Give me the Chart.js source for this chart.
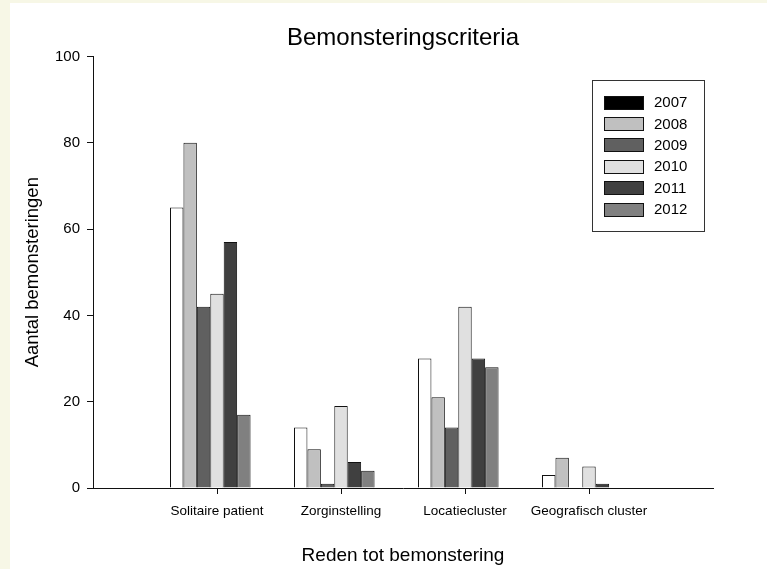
<!DOCTYPE html>
<html>
<head>
<meta charset="utf-8">
<title>Bemonsteringscriteria</title>
<script src="https://cdn.jsdelivr.net/npm/chart.js@4.4.1/dist/chart.umd.min.js"></script>
<style>
  html, body { margin: 0; padding: 0; width: 767px; height: 569px; overflow: hidden; background: #f7f7e6; }
  #wrap { position: absolute; left: 10px; top: 3px; width: 757px; height: 566px; background: #ffffff; }
</style>
</head>
<body>
<div id="wrap"><canvas id="chart"></canvas></div>
<script>
// Categories (reasons for sampling) and their positions on the x axis
const categories = ['Solitaire patient', 'Zorginstelling', 'Locatiecluster', 'Geografisch cluster'];
const categoryPositions = [1, 2, 3, 4];

// Number of samplings per year
const years = ['2007', '2008', '2009', '2010', '2011', '2012'];
const counts2007 = [65, 14, 30, 3];
const counts2008 = [80, 9, 21, 7];
const counts2009 = [42, 1, 14, 0];
const counts2010 = [45, 19, 42, 5];
const counts2011 = [57, 6, 30, 1];
const counts2012 = [17, 4, 28, 0];
const seriesValues = [counts2007, counts2008, counts2009, counts2010, counts2011, counts2012];

// Grey shades for the bars and for the legend swatches
const barFills = ['#ffffff', '#c0c0c0', '#606060', '#e0e0e0', '#404040', '#808080'];
const swatchFills = ['#000000', '#c0c0c0', '#606060', '#e0e0e0', '#404040', '#808080'];

const FONT = 'Liberation Sans, Arial, Helvetica, sans-serif';

const datasets = seriesValues.map((vals, i) => ({
  label: years[i],
  data: vals.map((v, j) => ({ x: categoryPositions[j], y: v })),
  backgroundColor: barFills[i],
  borderColor: '#111111',
  borderWidth: 1
}));
// An empty seventh slot: each group spans seven bar widths,
// so the category tick falls on the fourth bar of the group.
datasets.push({
  label: '',
  data: categoryPositions.map(x => ({ x: x, y: null })),
  backgroundColor: 'rgba(0,0,0,0)',
  borderWidth: 0
});

// Boxed legend drawn inside the plot area, top right
const boxedLegend = {
  id: 'boxedLegend',
  afterDraw(chart, args, opts) {
    const { ctx, chartArea } = chart;
    const right = chartArea.right - opts.marginRight;
    const left = right - opts.width;
    const top = chartArea.top + opts.marginTop;
    ctx.save();
    ctx.fillStyle = '#ffffff';
    ctx.fillRect(left, top, opts.width, opts.height);
    ctx.strokeStyle = '#333333';
    ctx.lineWidth = 1;
    ctx.strokeRect(Math.round(left) + 0.5, Math.round(top) + 0.5, opts.width, opts.height);
    ctx.font = opts.fontSize + 'px ' + FONT;
    ctx.textBaseline = 'middle';
    ctx.textAlign = 'left';
    years.forEach((yr, i) => {
      const cy = top + opts.firstRow + i * opts.rowGap;
      const sx = Math.round(left + opts.swatchLeft) + 0.5;
      const sy = Math.round(cy - opts.swatchH / 2) + 0.5;
      ctx.fillStyle = swatchFills[i];
      ctx.fillRect(sx, sy, opts.swatchW, opts.swatchH);
      ctx.strokeStyle = '#111111';
      ctx.strokeRect(sx, sy, opts.swatchW, opts.swatchH);
      ctx.fillStyle = '#000000';
      ctx.fillText(yr, left + opts.textLeft, cy + 1);
    });
    ctx.restore();
  }
};

new Chart(document.getElementById('chart'), {
  type: 'bar',
  data: { datasets },
  plugins: [boxedLegend],
  options: {
    responsive: true,
    maintainAspectRatio: false,
    animation: false,
    layout: { padding: { left: 0, right: 54, top: 0, bottom: 0 } },
    datasets: { bar: { categoryPercentage: 0.758, barPercentage: 1.0 } },
    plugins: {
      legend: { display: false },
      tooltip: { enabled: false },
      title: {
        display: true,
        text: 'Bemonsteringscriteria',
        fullSize: false,
        color: '#000000',
        font: { family: FONT, size: 24, weight: 'normal' },
        padding: { top: 21, bottom: 3.6 }
      },
      boxedLegend: {
        width: 112, height: 151, marginRight: 9, marginTop: 23.6,
        swatchLeft: 12, swatchW: 39, swatchH: 13,
        textLeft: 62, firstRow: 22, rowGap: 21.4, fontSize: 15
      }
    },
    scales: {
      x: {
        type: 'linear',
        min: 0,
        max: 5,
        offset: false,
        z: 1,
        afterBuildTicks: (scale) => {
          scale.ticks = categoryPositions.map(v => ({ value: v }));
        },
        afterFit: (scale) => { scale.height = 81; },
        ticks: {
          stepSize: 1,
          autoSkip: false,
          maxRotation: 0,
          padding: 9,
          color: '#000000',
          font: { family: FONT, size: 13.5 },
          callback: (value) => categories[categoryPositions.indexOf(value)] || ''
        },
        grid: { display: true, offset: false, drawOnChartArea: false, drawTicks: true, tickLength: 6, color: '#111111', tickColor: '#111111' },
        border: { display: true, color: '#111111', width: 1 },
        title: {
          display: true,
          text: 'Reden tot bemonstering',
          color: '#000000',
          font: { family: FONT, size: 19 },
          padding: { top: 0, bottom: 2 }
        }
      },
      y: {
        min: 0,
        max: 100,
        z: 1,
        afterFit: (scale) => { scale.width = 83; },
        ticks: {
          stepSize: 20,
          padding: 7,
          color: '#000000',
          font: { family: FONT, size: 15 }
        },
        grid: { display: true, drawOnChartArea: false, drawTicks: true, tickLength: 6, color: '#111111', tickColor: '#111111' },
        border: { display: true, color: '#111111', width: 1 },
        title: {
          display: true,
          text: 'Aantal bemonsteringen',
          color: '#000000',
          font: { family: FONT, size: 18.5 },
          padding: { top: 11.6, bottom: 0 }
        }
      }
    }
  }
});
</script>
</body>
</html>
